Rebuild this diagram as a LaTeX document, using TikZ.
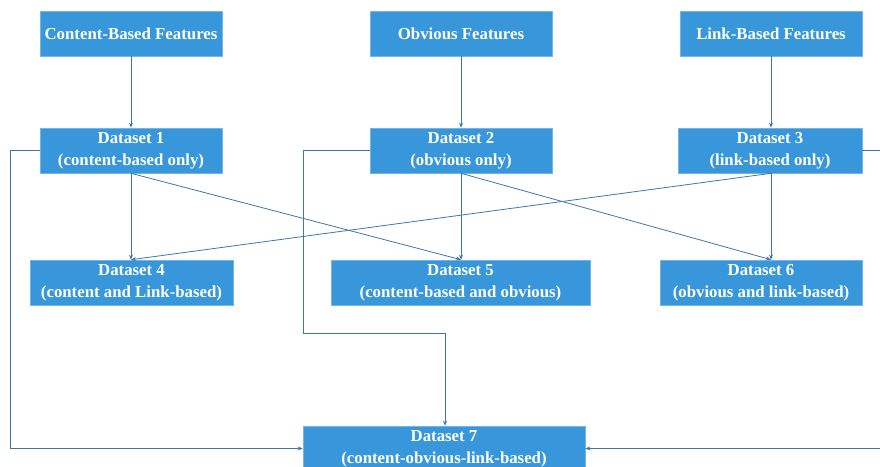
\documentclass[tikz,border=0pt]{standalone}
\usepackage{fontspec}
\setmainfont{Liberation Serif}
\usetikzlibrary{arrows.meta}
\definecolor{boxblue}{HTML}{3797DA}
\definecolor{linkblue}{HTML}{3C78AE}
\tikzset{
  box/.style={draw=boxblue!70!white, line width=0.6pt, fill=boxblue, text=white, font=\bfseries\fontsize{16.8}{22}\selectfont, align=center, inner sep=0pt},
  conn/.style={draw=linkblue, line width=0.8pt, -{Stealth[length=5pt,width=4pt]}},
}
\begin{document}
\begin{tikzpicture}[x=1pt,y=-1pt]
\clip (0,0) rectangle (880,466);
\fill[white] (0,0) rectangle (880,466);
% top row
\node[box, minimum width=182pt, minimum height=45pt] (cf) at (131,33.5) {Content-Based Features};
\node[box, minimum width=182pt, minimum height=45pt] (of) at (461,33.5) {Obvious Features};
\node[box, minimum width=182pt, minimum height=45pt] (lf) at (771,33.5) {Link-Based Features};
% second row
\node[box, minimum width=182pt, minimum height=45pt] (d1) at (131,150.5) {Dataset 1\\(content-based only)};
\node[box, minimum width=182pt, minimum height=45pt] (d2) at (461,150.5) {Dataset 2\\(obvious only)};
\node[box, minimum width=184pt, minimum height=45pt] (d3) at (770,150.5) {Dataset 3\\(link-based only)};
% third row
\node[box, minimum width=203pt, minimum height=45pt] (d4) at (131.5,282.5) {Dataset 4\\(content and Link-based)};
\node[box, minimum width=259pt, minimum height=45pt] (d5) at (460.5,282.5) {Dataset 5\\(content-based and obvious)};
\node[box, minimum width=202pt, minimum height=45pt] (d6) at (761,282.5) {Dataset 6\\(obvious and link-based)};
% bottom
\node[box, minimum width=282pt, minimum height=45pt] (d7) at (444,448.5) {Dataset 7\\(content-obvious-link-based)};
% helper coordinates
\coordinate (l1) at (10,150.5);
\coordinate (l1b) at (10,448.5);
\coordinate (l2) at (303,150.5);
\coordinate (l2b) at (303,333);
\coordinate (l2c) at (445,333);
\coordinate (r3) at (884,150.5);
\coordinate (r3b) at (884,448.5);
% vertical feature arrows
\draw[conn] (cf.south) -- (d1.north);
\draw[conn] (of.south) -- (d2.north);
\draw[conn] (lf.south) -- (d3.north -| lf.south);
% cross connections
\draw[conn] (d1.south) -- (d4.north -| d1.south);
\draw[conn] (d1.south) -- (d5.north -| d2.south);
\draw[conn] (d2.south) -- (d5.north -| d2.south);
\draw[conn] (d2.south) -- (d6.north -| lf.south);
\draw[conn] (d3.south -| lf.south) -- (d6.north -| lf.south);
\draw[conn] (d3.south -| lf.south) -- (d4.north -| d1.south);
% to dataset 7
\draw[conn] (d1.west) -- (l1) -- (l1b) -- (d7.west);
\draw[conn] (d2.west) -- (l2) -- (l2b) -- (l2c) -- (d7.north -| l2c);
\draw[conn] (d3.east) -- (r3) -- (r3b) -- (d7.east);
\end{tikzpicture}
\end{document}
